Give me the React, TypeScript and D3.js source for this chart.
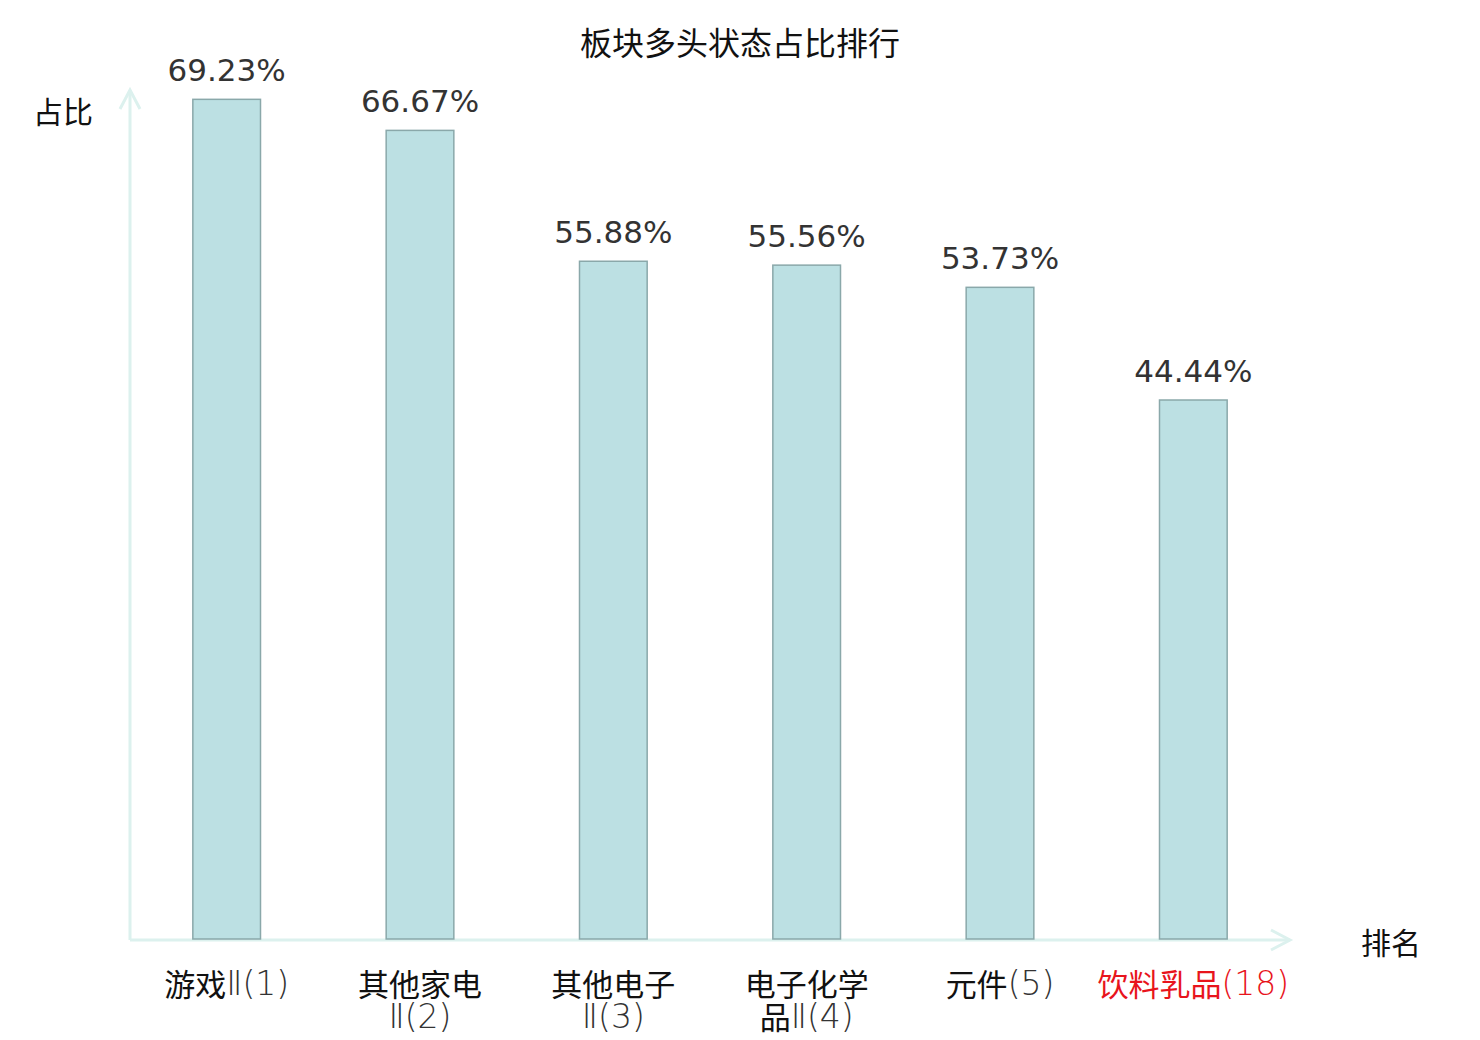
import React from "react";
import * as d3 from "d3";

const categories = ["游戏Ⅱ(1)", "其他家电Ⅱ(2)", "其他电子Ⅱ(3)", "电子化学品Ⅱ(4)", "元件(5)", "饮料乳品(18)"];
const labelLines: [string, string][][] = [
  [["游戏", "Ⅱ(1)"]],
  [["其他家电", ""], ["", "Ⅱ(2)"]],
  [["其他电子", ""], ["", "Ⅱ(3)"]],
  [["电子化学", ""], ["品", "Ⅱ(4)"]],
  [["元件", "(5)"]],
  [["饮料乳品", "(18)"]],
];
const values = [69.23, 66.67, 55.88, 55.56, 53.73, 44.44];
const highlighted = [false, false, false, false, false, true];
const title = "板块多头状态占比排行";
const yAxisName = "占比";
const xAxisName = "排名";

const W = 1480;
const H = 1040;
const left = 130;
const right = 1290;
const bottom = 939;
const top = 90;

export default function App() {
  const x = d3.scaleBand<string>().domain(categories).range([left, right]).paddingInner(0.65).paddingOuter(0.325);
  const y = d3.scaleLinear().domain([0, 70]).range([bottom, top]);
  const axisColor = "#dcf1ee";
  const cjk = "Noto Sans CJK SC, DejaVu Sans, sans-serif";
  const latin = "DejaVu Sans, sans-serif";
  return (
    <svg width={W} height={H} style={{ position: "absolute", left: 0, top: 0, background: "#fff" }}>
      <text x={740} y={41} textAnchor="middle" dominantBaseline="central" fontFamily={cjk} fontSize={32} fill="#111">
        {title}
      </text>
      <text x={63} y={110} textAnchor="middle" dominantBaseline="central" fontFamily={cjk} fontSize={30} fill="#111">
        {yAxisName}
      </text>
      <text x={1391} y={941} textAnchor="middle" dominantBaseline="central" fontFamily={cjk} fontSize={30} fill="#111">
        {xAxisName}
      </text>
      {/* axes */}
      <line x1={left} y1={bottom + 1} x2={left} y2={top} stroke={axisColor} strokeWidth={3} />
      <polyline points={`${left - 10},${top + 19} ${left},${top} ${left + 10},${top + 19}`} fill="none" stroke={axisColor} strokeWidth={3} />
      <line x1={left} y1={bottom + 1} x2={right} y2={bottom + 1} stroke={axisColor} strokeWidth={3} />
      <polyline points={`${right - 19},${bottom - 9} ${right},${bottom + 1} ${right - 19},${bottom + 11}`} fill="none" stroke={axisColor} strokeWidth={3} />
      {categories.map((c, i) => {
        const bx = x(c)!;
        const bw = x.bandwidth();
        const ty = y(values[i]);
        const cx = bx + bw / 2;
        const col = highlighted[i] ? "#e8141c" : "#111";
        return (
          <g key={c}>
            <rect x={bx} y={ty} width={bw} height={bottom - ty} fill="#bce0e3" stroke="#8aa8aa" strokeWidth={1.5} />
            <text x={cx} y={ty - 18} textAnchor="middle" fontFamily={latin} fontSize={31} fill="#333">
              {values[i].toFixed(2) + "%"}
            </text>
            {labelLines[i].map((ln, j) => (
              <text
                key={j}
                x={cx}
                y={982 + j * 33}
                textAnchor="middle"
                dominantBaseline="central"
                fill={col}
              >
                {ln[0] && <tspan fontFamily={cjk} fontSize={31}>{ln[0]}</tspan>}
                {ln[1] && (
                  <tspan fontFamily={latin} fontWeight={200} fontSize={33} dy={1} fill={highlighted[i] ? "#e8141c" : "#333"}>
                    {ln[1]}
                  </tspan>
                )}
              </text>
            ))}
          </g>
        );
      })}
    </svg>
  );
}
